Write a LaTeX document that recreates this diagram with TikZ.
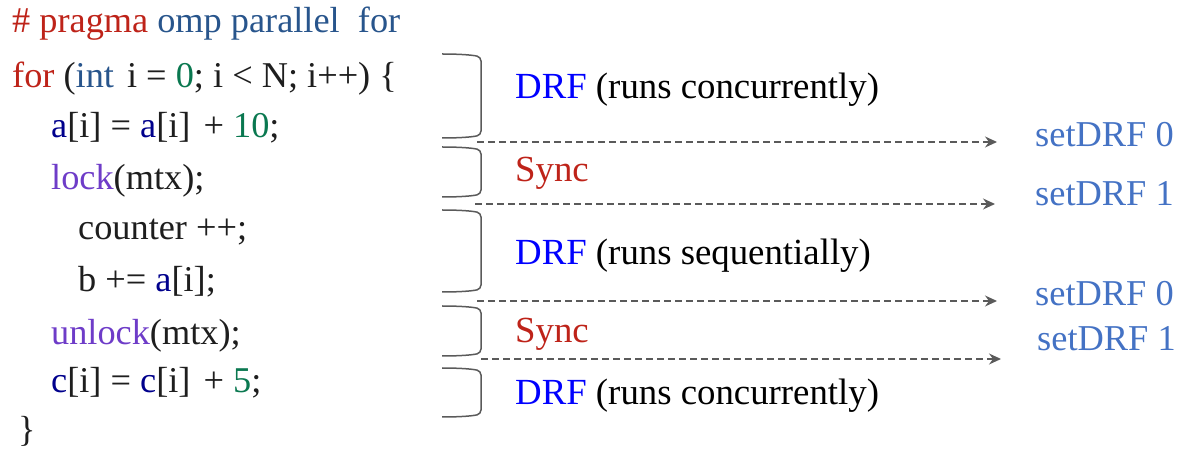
\documentclass[tikz,border=0pt]{standalone}
\usepackage{fontspec}
\setmainfont{Liberation Serif}
\usetikzlibrary{arrows.meta}
\definecolor{kwred}{RGB}{190,35,25}
\definecolor{kwblue}{RGB}{40,85,140}
\definecolor{numgreen}{RGB}{10,120,80}
\definecolor{varnavy}{RGB}{0,0,140}
\definecolor{fnpurple}{RGB}{110,60,200}
\definecolor{codeblack}{RGB}{30,30,30}
\definecolor{drfblue}{RGB}{0,0,255}
\definecolor{setblue}{RGB}{68,114,196}
\definecolor{linegray}{RGB}{90,90,90}
\tikzset{
  codeline/.style={anchor=base west, inner sep=0pt, text=codeblack,
    font=\fontsize{36.3}{43}\selectfont},
  phase/.style={anchor=base west, inner sep=0pt, text=black,
    font=\fontsize{36.8}{44}\selectfont},
  setlabel/.style={anchor=base west, inner sep=0pt, text=setblue,
    font=\fontsize{36.4}{43}\selectfont},
  bracketline/.style={draw=linegray, line width=1.5pt, rounded corners=4pt},
  handoff/.style={draw=linegray, line width=1.4pt, dash pattern=on 7pt off 4pt,
    -{Stealth[length=12pt,width=11pt,inset=4pt]}},
}
\newcommand{\kw}[1]{\textcolor{kwred}{#1}}
\newcommand{\kb}[1]{\textcolor{kwblue}{#1}}
\newcommand{\nm}[1]{\textcolor{numgreen}{#1}}
\newcommand{\vr}[1]{\textcolor{varnavy}{#1}}
\newcommand{\fn}[1]{\textcolor{fnpurple}{#1}}
\begin{document}
\begin{tikzpicture}[x=1pt,y=-1pt]
\useasboundingbox (0,0) rectangle (1179,454);

% source code
\node[codeline] (l1) at (12,33)  {\kw{\# pragma} \kb{omp parallel\ \ for}};
\node[codeline] (l2) at (12,88)  {\kw{for} (\kb{int}\hspace{4pt} i = \nm{0}; i < N; i++) \{};
\node[codeline] (l3) at (51,138) {\vr{a}[i] = \vr{a}[i]\hspace{4pt} + \nm{10};};
\node[codeline] (l4) at (51,190) {\fn{lock}(mtx);};
\node[codeline] (l5) at (78,240) {counter ++;};
\node[codeline] (l6) at (78,292) {b += \vr{a}[i];};
\node[codeline] (l7) at (51,345) {\fn{unlock}(mtx);};
\node[codeline] (l8) at (51,393) {\vr{c}[i] = \vr{c}[i]\hspace{4pt} + \nm{5};};
\node[codeline] (l9) at (18,442) {\}};

% region brackets
\foreach \top/\bot in {54/138, 147/197, 210/292, 306/356, 368/417}{
  \draw[bracketline] (442,\top) .. controls (460,\top) and (472,\top+1) .. (481,\top+3)
    -- (481,\bot-3) .. controls (472,\bot-1) and (460,\bot) .. (442,\bot);
}

% region labels
\node[phase] (p1) at (515,99)  {\textcolor{drfblue}{DRF} (runs concurrently)};
\node[phase] (p2) at (515,182) {\textcolor{kwred}{Sync}};
\node[phase] (p3) at (515,265) {\textcolor{drfblue}{DRF} (runs sequentially)};
\node[phase] (p4) at (515,343) {\textcolor{kwred}{Sync}};
\node[phase] (p5) at (515,405) {\textcolor{drfblue}{DRF} (runs concurrently)};

% mode switches
\node[setlabel] (s1) at (1035,147) {setDRF 0};
\node[setlabel] (s2) at (1035,206) {setDRF 1};
\node[setlabel] (s3) at (1035,306) {setDRF 0};
\node[setlabel] (s4) at (1037,351) {setDRF 1};

\coordinate (a1) at (477,142); \coordinate (b1) at (997,142);
\coordinate (a2) at (475,204); \coordinate (b2) at (995,204);
\coordinate (a3) at (477,301); \coordinate (b3) at (997,301);
\coordinate (a4) at (481,359); \coordinate (b4) at (1001,359);
\foreach \i in {1,...,4}{ \draw[handoff] (a\i) -- (b\i); }
\end{tikzpicture}
\end{document}
